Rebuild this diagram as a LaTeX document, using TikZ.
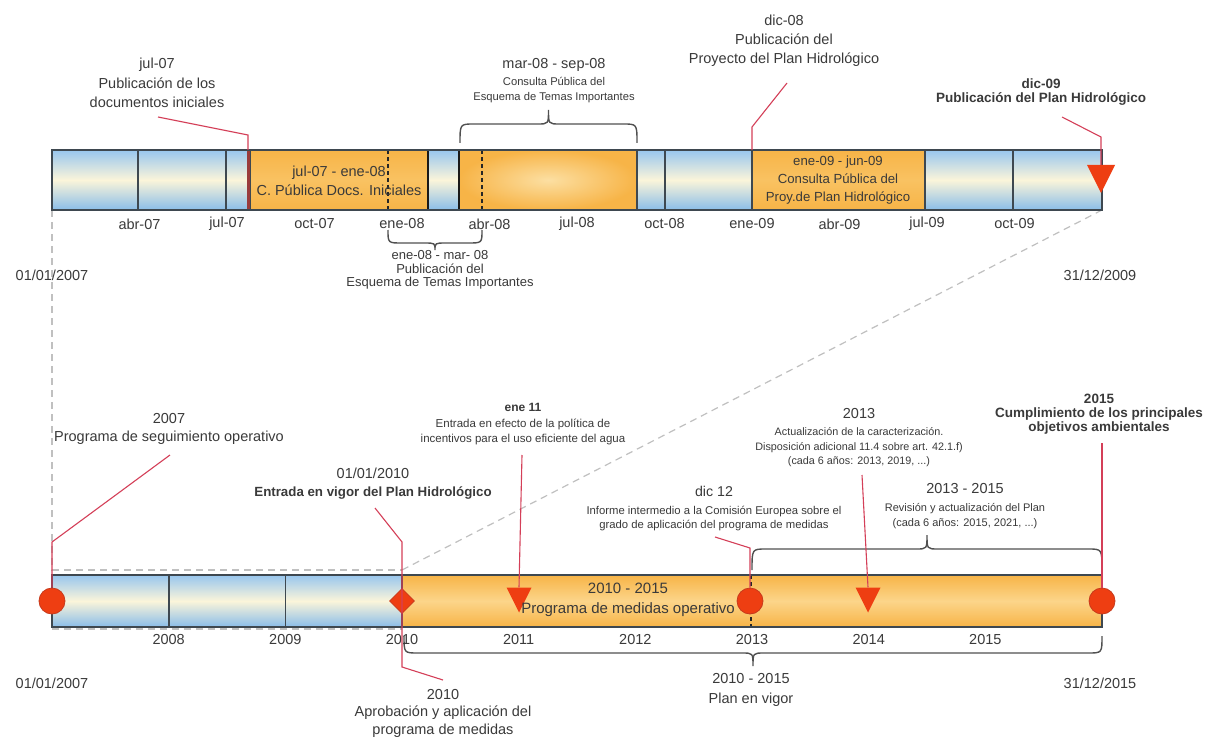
\documentclass[tikz,border=0pt]{standalone}
\usepackage{fontspec}
\setmainfont{Liberation Sans}
\usetikzlibrary{shapes.geometric}
\definecolor{txtc}{HTML}{3A3A3A}
\definecolor{barline}{HTML}{3E4850}
\definecolor{blueA}{HTML}{98C6EE}
\definecolor{blueM}{HTML}{FBF5DA}
\definecolor{blueB}{HTML}{8ABDE9}
\definecolor{orA}{HTML}{F7B447}
\definecolor{orS}{HTML}{F9C262}
\definecolor{orM}{HTML}{FCD58A}
\definecolor{orL}{HTML}{FCDFA2}
\definecolor{mred}{HTML}{EE3E12}
\definecolor{mredd}{HTML}{C73A1C}
\definecolor{cline}{HTML}{D43F58}
\definecolor{guide}{HTML}{C0C0C0}
\definecolor{bracec}{HTML}{505050}
\definecolor{jmark}{HTML}{9A3B3B}
\newcommand\tlbrace[5]{%
  \draw[bracepath] (#1,#3) .. controls (#1,#4) .. ({#1+14},#4)
    -- ({(#1+#2)/2-11},#4) .. controls ({(#1+#2)/2},#4) .. ({(#1+#2)/2},#5)
    .. controls ({(#1+#2)/2},#4) .. ({(#1+#2)/2+11},#4)
    -- ({#2-14},#4) .. controls (#2,#4) .. (#2,#3);}
\begin{document}
\begin{tikzpicture}[x=1pt,y=-1pt,
  lbl/.style={text=txtc, align=center, inner sep=0pt, font=\fontsize{14.5}{19.5}\selectfont},
  seg/.style={draw=barline, line width=1.4pt},
  blueseg/.style={seg, top color=blueA, bottom color=blueB, middle color=blueM},
  orseg/.style={seg, top color=orA, bottom color=orA, middle color=orS},
  tickln/.style={draw=barline, line width=1.6pt},
  dashdark/.style={draw=black!85, line width=1.6pt, dash pattern=on 4pt off 3pt},
  guideln/.style={draw=guide, line width=1.2pt, dash pattern=on 7pt off 5pt},
  bracepath/.style={draw=bracec, line width=1.4pt},
  callout/.style={draw=cline, line width=1.1pt},
  mcirc/.style={circle, fill=mred, draw=mredd, line width=0.8pt, minimum size=26pt, inner sep=0pt},
  mdiam/.style={diamond, fill=mred, draw=mredd, line width=0.8pt, minimum size=25pt, inner sep=0pt},
  mtri/.style={inner sep=0pt, minimum width=#1, minimum height=#1,
    path picture={\fill[mred] (path picture bounding box.north west) -- (path picture bounding box.north east) -- (path picture bounding box.south) -- cycle;}},
]
\useasboundingbox (0,0) rectangle (1209,738);
\fill[white] (0,0) rectangle (1209,738);

% ---------- guides ----------
\draw[guideln] (52,210) -- (52,570) -- (402,570);
\draw[guideln] (1102,210) -- (402,570);
\draw[guideln] (52,629) -- (402,629);

% ---------- top bar ----------
\path[blueseg] (52,150) rectangle (250,210);
\path[orseg] (250,150) rectangle (428,210);
\path[seg, inner color=orL, outer color=orA] (459,150) rectangle (637,210);
\path[blueseg] (637,150) rectangle (752,210);
\path[orseg] (752,150) rectangle (925,210);
\path[blueseg] (925,150) rectangle (1102,210);
\path[blueseg, draw=black!90, line width=2.2pt] (428,150) rectangle (459,210);
\foreach \t in {138,226,665,1013} \draw[tickln] (\t,150) -- (\t,210);
\draw[dashdark] (388,150) -- (388,210);
\draw[dashdark] (482,150) -- (482,210);
\node (jmk) [fill=jmark, minimum width=3pt, minimum height=60pt, inner sep=0pt] at (248,180) {};
\draw[draw=barline, line width=1.6pt] (52,150) rectangle (1102,210);

% ---------- bottom bar ----------
\path[blueseg] (52,575) rectangle (402,627);
\path[seg, top color=orA, bottom color=orA, middle color=orM] (402,575) rectangle (1102,627);
\foreach \t in {168.7,285.3} \draw[tickln] (\t,575) -- (\t,627);
\draw[dashdark, line width=1.3pt] (751,575) -- (751,627);
\draw[draw=barline, line width=1.6pt] (52,575) rectangle (1102,627);

% ---------- braces ----------
\tlbrace{460}{637}{143}{124}{110}
\tlbrace{388}{482}{230}{243}{250}
\tlbrace{752}{1102}{570}{549}{535}
\tlbrace{404}{1102}{636}{653}{666}

% ---------- month / year labels ----------
\foreach \lab [count=\i] in {abr-07,jul-07,oct-07,ene-08,abr-08,jul-08,oct-08,ene-09,abr-09,jul-09,oct-09}
  \node[lbl] (mon\i) at ({52+87.5*\i},224) {\lab};
\foreach \lab [count=\i] in {2008,2009,2010,2011,2012,2013,2014,2015}
  \node[lbl] (yr\i) at ({52+116.67*\i},640) {\lab};

% ---------- markers ----------
\node[mtri=28pt] (tdic09) at (1101,179) {};
\node[mcirc] (c2007) at (52,601) {};
\node[mdiam] (d2010) at (402,601) {};
\node[mtri=25pt] (t2011) at (519,600) {};
\node[mcirc] (c2013) at (750,601) {};
\node[mtri=25pt] (t2014) at (868,600) {};
\node[mcirc] (c2015) at (1102,601) {};

% ---------- texts ----------
\node[lbl] (xjul07) at (157,83) {jul-07\\Publicación de los\\documentos iniciales};
\node[lbl, font=\fontsize{11.2}{15}\selectfont] (xmar08) at (554,81)
  {\fontsize{14.5}{15}\selectfont mar-08 - sep-08\\[2pt]Consulta Pública del\\Esquema de Temas Importantes};
\node[lbl, font=\fontsize{14.5}{19}\selectfont] (xdic08) at (784,41) {dic-08\\Publicación del\\Proyecto del Plan Hidrológico};
\node[lbl, font=\bfseries\fontsize{13.5}{13.5}\selectfont] (xdic09) at (1041,92) {dic-09\\Publicación del Plan Hidrológico};
\node[lbl] (xcpdi) at (339,181) {jul-07 - ene-08\\C. Pública Docs. Iniciales};
\node[lbl, font=\fontsize{13.2}{18}\selectfont] (xcpph) at (838,180) {ene-09 - jun-09\\Consulta Pública del\\Proy.de Plan Hidrológico};
\node[lbl, font=\fontsize{13}{13.7}\selectfont] (xpeti) at (440,270) {ene-08 - mar- 08\\Publicación del\\Esquema de Temas Importantes};
\node[lbl] (xd07a) at (52,275) {01/01/2007};
\node[lbl] (xd09) at (1100,275) {31/12/2009};
\node[lbl] (xd07b) at (52,683) {01/01/2007};
\node[lbl] (xd15) at (1100,683) {31/12/2015};

\node[lbl, font=\fontsize{14.5}{18}\selectfont] (x2007) at (169,429) {2007\\Programa de seguimiento operativo};
\node[lbl, font=\fontsize{14.5}{18}\selectfont] (x2010a) at (373,484) {01/01/2010\\\bfseries\fontsize{13.3}{18}\selectfont Entrada en vigor del Plan Hidrológico};
\node[lbl, font=\fontsize{11.5}{15}\selectfont] (x2011) at (523,424) {\bfseries\fontsize{12}{15}\selectfont ene 11\\[1.5pt]Entrada en efecto de la política de\\incentivos para el uso eficiente del agua};
\node[lbl, font=\fontsize{11.3}{14}\selectfont] (x2012) at (714,509) {\fontsize{14.2}{14}\selectfont dic 12\\[4pt]Informe intermedio a la Comisión Europea sobre el\\grado de aplicación del programa de medidas};
\node[lbl, font=\fontsize{10.8}{14.5}\selectfont] (x2013) at (859,438) {\fontsize{14.5}{14.5}\selectfont 2013\\[2.5pt]Actualización de la caracterización.\\Disposición adicional 11.4 sobre art. 42.1.f)\\(cada 6 años: 2013, 2019, ...)};
\node[lbl, font=\fontsize{11}{15}\selectfont] (x1315) at (965,506) {\fontsize{14.5}{15}\selectfont 2013 - 2015\\[3pt]Revisión y actualización del Plan\\(cada 6 años: 2015, 2021, ...)};
\node[lbl, font=\bfseries\fontsize{13.5}{14}\selectfont] (x2015) at (1099,414) {2015\\Cumplimiento de los principales\\objetivos ambientales};
\node[lbl, font=\fontsize{15}{20}\selectfont] (xprog) at (628,600) {2010 - 2015\\Programa de medidas operativo};
\node[lbl, font=\fontsize{14.5}{20}\selectfont] (xvigor) at (751,690) {2010 - 2015\\Plan en vigor};
\node[lbl, font=\fontsize{14.5}{17.5}\selectfont] (xapro) at (443,713) {2010\\Aprobación y aplicación del\\programa de medidas};

% ---------- callout connectors ----------
\coordinate (sjul07) at (158,117);
\coordinate (sdic08) at (787,83);
\coordinate (edic08) at (752,150);
\coordinate (sdic09) at (1062,117);
\coordinate (s2007) at (170,455);
\coordinate (s2010) at (375,508);
\coordinate (e2010) at (443,680);
\coordinate (s2011) at (522,455);
\coordinate (s2012) at (715,537);
\coordinate (s2013) at (862,475);
\coordinate (s2015) at (1102,443);
\draw[callout] (sjul07) -- (248,135) -- (jmk.north);
\draw[callout] (sdic08) -- (752,127) -- (edic08);
\draw[callout] (sdic09) -- (1101,137) -- (tdic09.north);
\draw[callout] (s2007) -- (52,542) -- (c2007.north);
\draw[callout] (s2010) -- (402,542) -- (402,667) -- (e2010);
\draw[callout] (s2011) -- (t2011.north);
\draw[callout] (s2012) -- (750,548) -- (c2013.north);
\draw[callout] (s2013) -- (t2014.north);
\draw[callout] (s2015) -- (c2015.north);
\end{tikzpicture}
\end{document}
